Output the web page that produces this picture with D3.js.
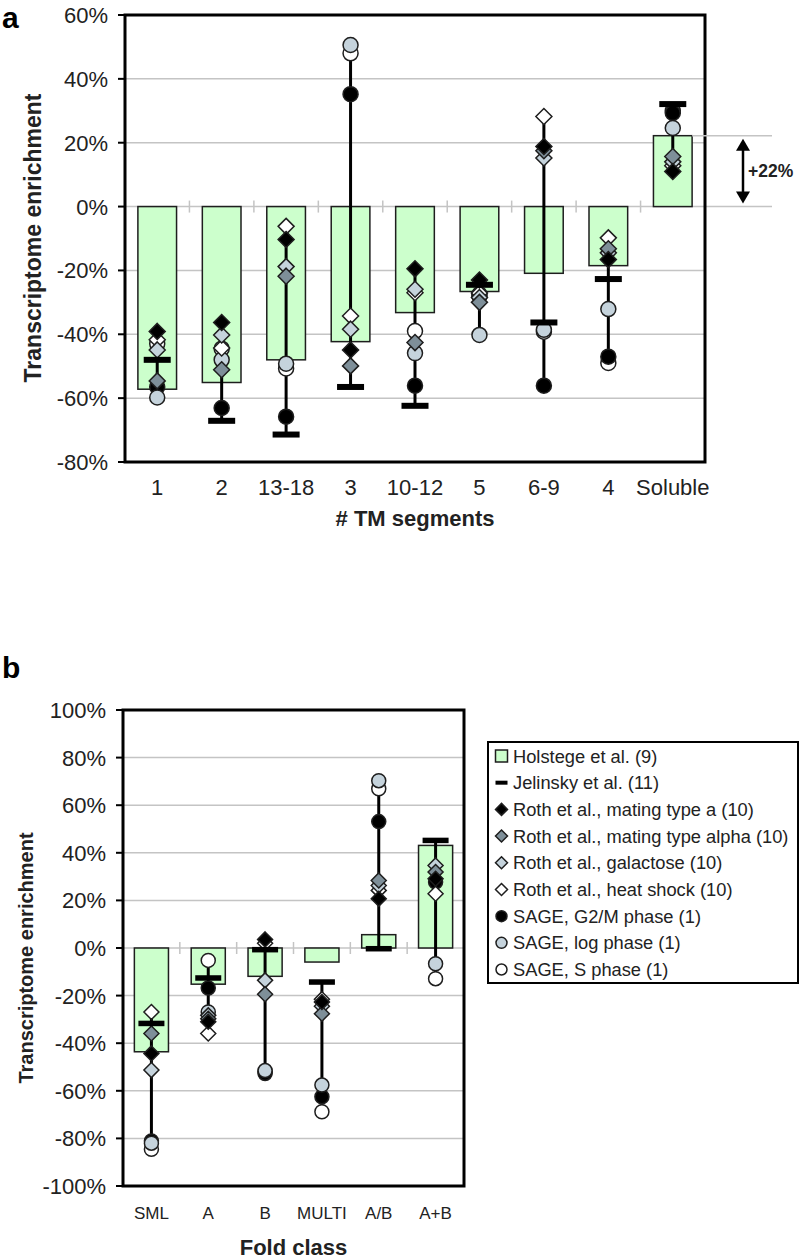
<!DOCTYPE html>
<html>
<head>
<meta charset="utf-8">
<script src="https://cdn.jsdelivr.net/npm/d3@7"></script>
<style>
  html, body { margin: 0; padding: 0; background: #fff; }
  svg { display: block; font-family: "Liberation Sans", Arial, sans-serif; }
</style>
</head>
<body>
<svg id="chart" width="800" height="1260"></svg>
<script>
// ---------- Panel a data ----------
const tmCategories = ["1", "2", "13-18", "3", "10-12", "5", "6-9", "4", "Soluble"];
const tmHolstege   = [-57.2, -55.1, -48.0, -42.3, -33.2, -26.6, -20.9, -18.5, 22.2];
const tmJelinsky   = [-48.0, -67.1, -71.4, -56.5, -62.4, -24.5, -36.3, -22.7, 32.1];
const tmRothA      = [-39.1, -36.3, -10.3, -44.9, -19.5, -23.0, 18.8, -16.6, 11.0];
const tmRothAlpha  = [-54.6, -51.1, -21.8, -49.9, -42.6, -30.0, 17.5, -13.2, 15.7];
const tmRothGal    = [-44.9, -40.2, -18.8, -38.4, -25.9, -28.5, 15.2, -14.5, 14.0];
const tmRothHeat   = [-41.7, -44.3, -6.2, -34.3, -27.0, -27.1, 28.2, -9.8, 12.8];
const tmSageG2M    = [-56.5, -63.1, -65.8, 35.2, -56.1, -27.5, -56.1, -47.0, 29.3];
const tmSageLog    = [-59.8, -48.0, -49.2, 50.6, -45.9, -40.2, -38.6, -32.1, 24.6];
const tmSageS      = [-43.0, -44.5, -50.7, 48.0, -39.0, -28.0, -39.2, -49.0, 30.0];
const tmTicks      = [60, 40, 20, 0, -20, -40, -60, -80];

// ---------- Panel b data ----------
const foldCategories = ["SML", "A", "B", "MULTI", "A/B", "A+B"];
const foldHolstege   = [-43.6, -15.2, -11.9, -5.9, 5.6, 43.1];
const foldJelinsky   = [-31.7, -12.6, -0.7, -14.3, -0.3, 45.2];
const foldRothA      = [-44.3, -31.0, 3.6, -22.7, 20.7, 29.1];
const foldRothAlpha  = [-35.9, -29.7, -19.4, -27.6, 28.4, 31.9];
const foldRothGal    = [-51.3, -28.3, -13.6, -24.5, 26.3, 34.7];
const foldRothHeat   = [-26.9, -35.9, 2.0, -21.5, 24.2, 22.8];
const foldSageG2M    = [-81.1, -16.8, -52.7, -62.5, 53.1, 27.7];
const foldSageLog    = [-82.0, -26.9, -51.5, -57.6, 70.3, -6.6];
const foldSageS      = [-84.6, -5.2, -52.0, -68.8, 66.9, -12.9];
const foldTicks      = [100, 80, 60, 40, 20, 0, -20, -40, -60, -80, -100];

// ---------- Legend ----------
const legendLabels = [
  "Holstege et al. (9)",
  "Jelinsky et al. (11)",
  "Roth et al., mating type a (10)",
  "Roth et al., mating type alpha (10)",
  "Roth et al., galactose (10)",
  "Roth et al., heat shock (10)",
  "SAGE, G2/M phase (1)",
  "SAGE, log phase (1)",
  "SAGE, S phase (1)"
];

// ---------- Styles ----------
const GREEN = "#ccffcc", EDGE = "#1e1e1e", DARK = "#7e8f99", LIGHT = "#c5d3dc", GRID = "#c4c4c4";
const legendStyles = [
  {shape: "rect", fill: GREEN},
  {shape: "dash", fill: "#000"},
  {shape: "diamond", fill: "#000"},
  {shape: "diamond", fill: DARK},
  {shape: "diamond", fill: LIGHT},
  {shape: "diamond", fill: "#fff"},
  {shape: "circle", fill: "#000"},
  {shape: "circle", fill: LIGHT},
  {shape: "circle", fill: "#fff"}
];

const svg = d3.select("#chart");
svg.append("rect").attr("width", 800).attr("height", 1260).attr("fill", "#fff");

function diamondPath(s) { return `M0,${-s}L${s},0L0,${s}L${-s},0Z`; }

function drawPanel(cfg) {
  const g = svg.append("g");
  const x = d3.scaleBand().domain(cfg.categories).range([cfg.left, cfg.right])
    .paddingInner(0.4).paddingOuter(0.2);
  const y = d3.scaleLinear().domain(cfg.domain).range([cfg.bottom, cfg.top]);
  const cx = c => x(c) + x.bandwidth() / 2;

  // gridlines
  g.selectAll(".grid").data(cfg.ticks.filter(t => t !== cfg.domain[0] && t !== cfg.domain[1]))
    .enter().append("line")
    .attr("x1", cfg.left).attr("x2", d => (d === 0 && cfg.zeroExtend) ? cfg.zeroExtend : cfg.right)
    .attr("y1", d => y(d)).attr("y2", d => y(d))
    .attr("stroke", GRID).attr("stroke-width", 1.5);

  // category ticks on zero line
  const step = x.step();
  g.selectAll(".ctick").data(cfg.categories.slice(1)).enter().append("line")
    .attr("x1", d => x(d) - step * 0.2).attr("x2", d => x(d) - step * 0.2)
    .attr("y1", y(0) - 6).attr("y2", y(0) + 6)
    .attr("stroke", GRID).attr("stroke-width", 1.5);

  // bars (Holstege)
  g.selectAll(".bar").data(cfg.categories).enter().append("rect")
    .attr("x", d => x(d)).attr("width", x.bandwidth())
    .attr("y", (d, i) => y(Math.max(0, cfg.holstege[i])))
    .attr("height", (d, i) => Math.abs(y(cfg.holstege[i]) - y(0)))
    .attr("fill", GREEN).attr("stroke", EDGE).attr("stroke-width", 1.5);

  // whisker lines (range of all point values)
  const pointSeries = [cfg.jelinsky, cfg.rothA, cfg.rothAlpha, cfg.rothGal, cfg.rothHeat, cfg.sageG2M, cfg.sageLog, cfg.sageS];
  g.selectAll(".whisk").data(cfg.categories).enter().append("line")
    .attr("x1", d => cx(d)).attr("x2", d => cx(d))
    .attr("y1", (d, i) => y(d3.max(pointSeries, s => s[i])))
    .attr("y2", (d, i) => y(d3.min(pointSeries, s => s[i])))
    .attr("stroke", "#000").attr("stroke-width", 3);

  // circles (SAGE)
  [[cfg.sageS, "#fff"], [cfg.sageG2M, "#000"], [cfg.sageLog, LIGHT]].forEach(([vals, fill]) => {
    g.append("g").selectAll("circle").data(cfg.categories).enter().append("circle")
      .attr("cx", d => cx(d)).attr("cy", (d, i) => y(vals[i])).attr("r", cfg.circleR)
      .attr("fill", fill).attr("stroke", EDGE).attr("stroke-width", 1.5);
  });

  // diamonds (Roth)
  [[cfg.rothHeat, "#fff"], [cfg.rothGal, LIGHT], [cfg.rothAlpha, DARK], [cfg.rothA, "#000"]].forEach(([vals, fill]) => {
    g.append("g").selectAll("path").data(cfg.categories).enter().append("path")
      .attr("d", diamondPath(cfg.diamondS))
      .attr("transform", (d, i) => `translate(${cx(d)},${y(vals[i])})`)
      .attr("fill", fill).attr("stroke", EDGE).attr("stroke-width", 1.5);
  });

  // Jelinsky dashes
  g.selectAll(".jel").data(cfg.categories).enter().append("rect")
    .attr("x", d => cx(d) - cfg.dashW / 2).attr("width", cfg.dashW)
    .attr("y", (d, i) => y(cfg.jelinsky[i]) - cfg.dashH / 2).attr("height", cfg.dashH)
    .attr("fill", "#000");

  // frame
  g.append("rect").attr("x", cfg.left).attr("y", cfg.top)
    .attr("width", cfg.right - cfg.left).attr("height", cfg.bottom - cfg.top)
    .attr("fill", "none").attr("stroke", "#000").attr("stroke-width", 3);

  // y axis ticks & labels
  g.selectAll(".ytick").data(cfg.ticks).enter().append("line")
    .attr("x1", cfg.left - 7).attr("x2", cfg.left).attr("y1", d => y(d)).attr("y2", d => y(d))
    .attr("stroke", "#000").attr("stroke-width", 2);
  g.selectAll(".ylab").data(cfg.ticks).enter().append("text")
    .attr("x", cfg.left - 17).attr("y", d => y(d) + 8)
    .attr("text-anchor", "end").attr("font-size", 22).attr("fill", "#222")
    .text(d => d + "%");

  // x labels
  g.selectAll(".xlab").data(cfg.categories).enter().append("text")
    .attr("x", d => cx(d)).attr("y", cfg.xLabelY)
    .attr("text-anchor", "middle").attr("font-size", cfg.xLabelSize).attr("fill", "#222")
    .text(d => d);

  // axis titles
  g.append("text").attr("x", (cfg.left + cfg.right) / 2).attr("y", cfg.xTitleY)
    .attr("text-anchor", "middle").attr("font-size", 22).attr("font-weight", "bold").attr("fill", "#222")
    .text(cfg.xTitle);
  g.append("text")
    .attr("transform", `translate(${cfg.yTitleX},${cfg.yTitleY}) rotate(-90)`)
    .attr("text-anchor", "middle").attr("font-size", cfg.yTitleSize).attr("font-weight", "bold").attr("fill", "#222")
    .text("Transcriptome enrichment");

  // panel letter
  g.append("text").attr("x", cfg.letterX).attr("y", cfg.letterY)
    .attr("font-size", 30).attr("font-weight", "bold").attr("fill", "#000").text(cfg.letter);

  return {x, y, cx};
}

// Panel a
const pa = drawPanel({
  categories: tmCategories, holstege: tmHolstege, jelinsky: tmJelinsky,
  rothA: tmRothA, rothAlpha: tmRothAlpha, rothGal: tmRothGal, rothHeat: tmRothHeat,
  sageG2M: tmSageG2M, sageLog: tmSageLog, sageS: tmSageS, ticks: tmTicks,
  left: 125, right: 705, top: 15, bottom: 462, domain: [-80, 60], zeroExtend: 772,
  circleR: 7.5, diamondS: 8, dashW: 27, dashH: 6,
  xLabelY: 495, xLabelSize: 22, xTitle: "# TM segments", xTitleY: 526,
  yTitleX: 41, yTitleY: 238, yTitleSize: 23, letter: "a", letterX: 2, letterY: 28
});

// +22% annotation
(function () {
  const sol = tmCategories.length - 1;
  const yTop = pa.y(tmHolstege[sol]), y0 = pa.y(0);
  const barRight = pa.x(tmCategories[sol]) + pa.x.bandwidth();
  svg.append("line").attr("x1", barRight).attr("x2", 772).attr("y1", yTop).attr("y2", yTop)
    .attr("stroke", GRID).attr("stroke-width", 1.5);
  const ax = 743;
  svg.append("line").attr("x1", ax).attr("x2", ax).attr("y1", yTop + 10).attr("y2", y0 - 10)
    .attr("stroke", "#000").attr("stroke-width", 2.5);
  svg.append("path").attr("d", `M${ax},${yTop + 3}L${ax - 7},${yTop + 15}L${ax + 7},${yTop + 15}Z`).attr("fill", "#000");
  svg.append("path").attr("d", `M${ax},${y0 - 3}L${ax - 7},${y0 - 15}L${ax + 7},${y0 - 15}Z`).attr("fill", "#000");
  svg.append("text").attr("x", 748).attr("y", (yTop + y0) / 2 + 6)
    .attr("font-size", 17.5).attr("font-weight", "bold").attr("fill", "#222")
    .text("+" + Math.round(tmHolstege[sol]) + "%");
})();

// Panel b
drawPanel({
  categories: foldCategories, holstege: foldHolstege, jelinsky: foldJelinsky,
  rothA: foldRothA, rothAlpha: foldRothAlpha, rothGal: foldRothGal, rothHeat: foldRothHeat,
  sageG2M: foldSageG2M, sageLog: foldSageLog, sageS: foldSageS, ticks: foldTicks,
  left: 123, right: 464, top: 710, bottom: 1186, domain: [-100, 100], zeroExtend: null,
  circleR: 7, diamondS: 7.5, dashW: 26, dashH: 5.5,
  xLabelY: 1219, xLabelSize: 17, xTitle: "Fold class", xTitleY: 1255,
  yTitleX: 33, yTitleY: 958, yTitleSize: 20, letter: "b", letterX: 2, letterY: 678
});

// Legend
(function () {
  const lg = svg.append("g");
  lg.append("rect").attr("x", 488).attr("y", 742).attr("width", 310).attr("height", 241)
    .attr("fill", "#fff").attr("stroke", "#000").attr("stroke-width", 2);
  const ly = d3.scalePoint().domain(legendLabels).range([756, 969.5]);
  legendLabels.forEach((lab, i) => {
    const yy = ly(lab), st = legendStyles[i], mx = 501.5;
    if (st.shape === "rect") {
      lg.append("rect").attr("x", mx - 6).attr("y", yy - 6).attr("width", 12).attr("height", 12)
        .attr("fill", st.fill).attr("stroke", EDGE).attr("stroke-width", 1.5);
    } else if (st.shape === "dash") {
      lg.append("rect").attr("x", mx - 6).attr("y", yy - 2).attr("width", 12).attr("height", 4).attr("fill", "#000");
    } else if (st.shape === "diamond") {
      lg.append("path").attr("d", diamondPath(6)).attr("transform", `translate(${mx},${yy})`)
        .attr("fill", st.fill).attr("stroke", EDGE).attr("stroke-width", 1.5);
    } else {
      lg.append("circle").attr("cx", mx).attr("cy", yy).attr("r", 5.5)
        .attr("fill", st.fill).attr("stroke", EDGE).attr("stroke-width", 1.5);
    }
    lg.append("text").attr("x", 513).attr("y", yy + 6.5).attr("font-size", 18.3).attr("fill", "#222").text(lab);
  });
})();
</script>
</body>
</html>
